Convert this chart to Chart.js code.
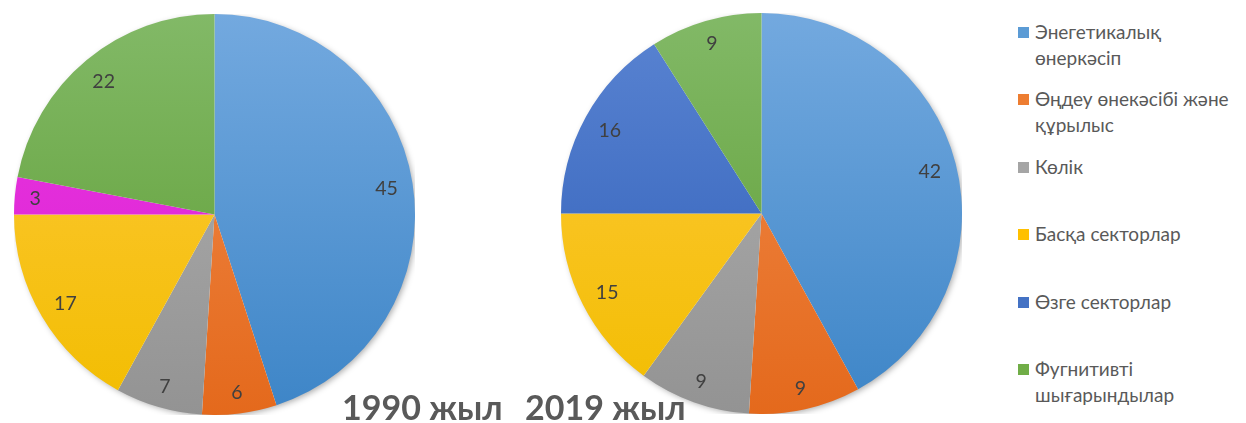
<!DOCTYPE html>
<html lang="kk">
<head>
    <meta charset="UTF-8">
    <meta name="viewport" content="width=device-width, initial-scale=1.0">
    <title>Шығарындылар құрылымы, 1990 және 2019 жыл</title>

    <style>
        body {
            margin: 0;
            background: #ffffff;
            font-family: 'Lato', 'Open Sans', sans-serif;
        }

        #wrap {
            position: relative;
            width: 1246px;
            height: 423px;
            overflow: hidden;
        }

        .pie-box {
            position: absolute;
            width: 401px;
            height: 401px;
        }

        #pie-1990 { left: 14px; top: 14px; }
        #pie-2019 { left: 561px; top: 13px; }

        .year {
            position: absolute;
            top: 386px;
            font-weight: 700;
            font-size: 34px;
            color: #595959;
            white-space: nowrap;
        }

        #legend {
            position: absolute;
            left: 1018px;
            top: 19px;
            width: 228px;
        }

        .legend-item {
            position: relative;
            height: 67.4px;
            padding-left: 17px;
            font-size: 19px;
            line-height: 26px;
            color: #595959;
        }

        .legend-item span {
            position: absolute;
            left: 0;
            top: 8px;
            width: 11px;
            height: 11px;
        }
    </style>
</head>
<body>
    <div id="wrap">
        <div class="pie-box" id="pie-1990"><canvas id="chart-1990"></canvas></div>
        <div class="pie-box" id="pie-2019"><canvas id="chart-2019"></canvas></div>
        <div class="year" style="left: 342px;">1990 жыл</div>
        <div class="year" style="left: 525px;">2019 жыл</div>
        <div id="legend"></div>
    </div>

    <script src="https://cdn.jsdelivr.net/npm/chart.js@4.4.0/dist/chart.umd.min.js"></script>

    <script>
        // sectors, in slice order (clockwise from 12 o'clock)
        const categories = [
            ['Энегетикалық', 'өнеркәсіп'],
            ['Өңдеу өнекәсібі және', 'құрылыс'],
            ['Көлік'],
            ['Басқа секторлар'],
            ['Өзге секторлар'],
            ['Фугнитивті', 'шығарындылар']
        ];
        const values1990 = [45, 6, 7, 17, 3, 22];
        const values2019 = [42, 9, 9, 15, 16, 9];

        // gradient stops per slice: [top, bottom]
        const shades2019 = [
            ['#73a9df', '#3d85c7'],
            ['#f18c4d', '#e4691c'],
            ['#b2b2b2', '#939393'],
            ['#ffca40', '#f2bd00'],
            ['#5a84d2', '#2d5db7'],
            ['#82b967', '#5c9c30']
        ];
        const shades1990 = shades2019.slice();
        shades1990[4] = ['#e838df', '#dc20d4'];

        const legendColors = ['#5b9bd5', '#ed7d31', '#a5a5a5', '#ffc000', '#4472c4', '#70ad47'];

        // vertical linear fill across the whole pie
        function sliceFill(shades) {
            return (context) => {
                const area = context.chart.chartArea;
                if (!area) return shades[context.dataIndex][0];
                const pair = shades[context.dataIndex];
                const g = context.chart.ctx.createLinearGradient(0, area.top, 0, area.bottom);
                g.addColorStop(0, pair[0]);
                g.addColorStop(1, pair[1]);
                return g;
            };
        }

        // soft drop shadow under the pie
        const pieShadow = {
            id: 'pieShadow',
            beforeDatasetsDraw(chart) {
                const arc = chart.getDatasetMeta(0).data[0];
                if (!arc) return;
                const {ctx} = chart;
                ctx.save();
                ctx.shadowColor = 'rgba(0, 0, 0, 0.35)';
                ctx.shadowBlur = 6;
                ctx.shadowOffsetX = 2;
                ctx.shadowOffsetY = 2;
                ctx.fillStyle = '#ffffff';
                ctx.beginPath();
                ctx.arc(arc.x, arc.y, arc.outerRadius - 1, 0, Math.PI * 2);
                ctx.fill();
                ctx.restore();
            }
        };

        // value labels placed near the outer edge of each slice
        const insideEnd = {
            id: 'insideEnd',
            afterDatasetsDraw(chart) {
                const {ctx} = chart;
                const meta = chart.getDatasetMeta(0);
                const values = chart.data.datasets[0].data;
                ctx.save();
                ctx.font = '19.5px Lato, "Open Sans", sans-serif';
                ctx.fillStyle = '#404040';
                ctx.textAlign = 'center';
                ctx.textBaseline = 'middle';
                meta.data.forEach((arc, i) => {
                    const mid = (arc.startAngle + arc.endAngle) / 2;
                    const dx = Math.cos(mid);
                    const dy = Math.sin(mid);
                    const text = String(values[i]);
                    const w = ctx.measureText(text).width;
                    const h = 14;
                    const dist = arc.outerRadius - 14 - (Math.abs(dx) * w / 2 + Math.abs(dy) * h / 2);
                    ctx.fillText(text, arc.x + dx * dist, arc.y + dy * dist + 1);
                });
                ctx.restore();
            }
        };

        function makePie(id, values, shades) {
            return new Chart(document.getElementById(id), {
                type: 'pie',
                data: {
                    labels: categories.map(c => c.join(' ')),
                    datasets: [{
                        data: values,
                        backgroundColor: sliceFill(shades),
                        borderWidth: 0
                    }]
                },
                options: {
                    responsive: true,
                    maintainAspectRatio: false,
                    animation: false,
                    layout: { padding: 0 },
                    plugins: {
                        legend: { display: false },
                        tooltip: { enabled: false }
                    }
                },
                plugins: [pieShadow, insideEnd]
            });
        }

        makePie('chart-1990', values1990, shades1990);
        makePie('chart-2019', values2019, shades2019);

        // legend on the right
        const legend = document.getElementById('legend');
        categories.forEach((lines, i) => {
            const item = document.createElement('div');
            item.className = 'legend-item';
            const box = document.createElement('span');
            box.style.background = legendColors[i];
            item.appendChild(box);
            item.appendChild(document.createTextNode(lines[0]));
            for (let k = 1; k < lines.length; k++) {
                item.appendChild(document.createElement('br'));
                item.appendChild(document.createTextNode(lines[k]));
            }
            legend.appendChild(item);
        });
    </script>
</body>
</html>
